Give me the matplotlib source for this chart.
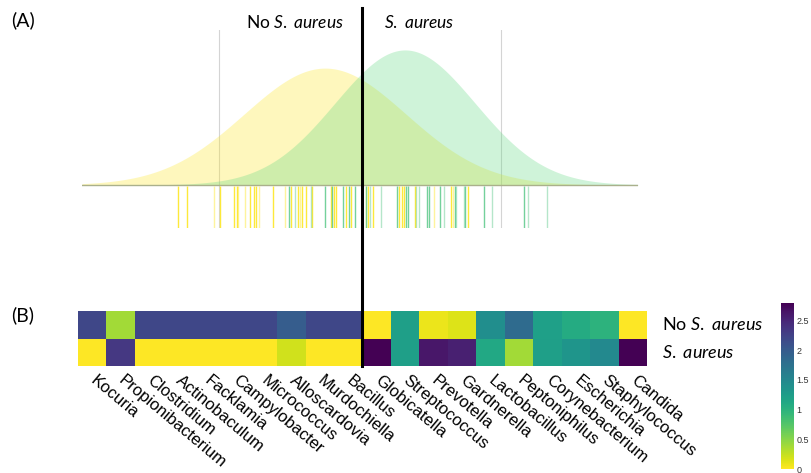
import numpy as np
import matplotlib.pyplot as plt
from matplotlib.lines import Line2D
import matplotlib.transforms as mtransforms

# Heatmap data (rows: No S. aureus / S. aureus)
genera = ['Kocuria', 'Propionibacterium', 'Clostridium', 'Actinobaculum', 'Facklamia',
          'Campylobacter', 'Micrococcus', 'Alloscardovia', 'Murdochiella', 'Bacillus',
          'Globicatella', 'Streptococcus', 'Prevotella', 'Gardnerella', 'Lactobacillus',
          'Peptoniphilus', 'Corynebacterium', 'Escherichia', 'Staphylococcus', 'Candida']
noAureusValues = [2.2, 0.39, 2.2, 2.2, 2.2, 2.2, 2.2, 1.98, 2.2, 2.2,
                  0.0, 1.23, 0.08, 0.15, 1.42, 1.83, 1.21, 1.08, 1.0, 0.0]
aureusValues = [0.0, 2.34, 0.0, 0.0, 0.0, 0.0, 0.0, 0.2, 0.0, 0.0,
                2.79, 1.23, 2.62, 2.55, 1.12, 0.39, 1.23, 1.34, 1.48, 2.79]
rowLabels = [r'No $\mathit{S.\ aureus}$', r'$\mathit{S.\ aureus}$']
colorbarTicks = [0, 0.5, 1, 1.5, 2, 2.5]
colorbarTickLabels = ['0', '0.5', '1', '1.5', '2', '2.5']

# Density parameters (mean, sd) for both groups
noAureusMean, noAureusSd = -0.247, 0.572
aureusMean, aureusSd = 0.318, 0.495

# Rug positions (strong / faint) for both groups
noAureusRugStrong = [-1.284, -1.220, -0.987, -0.894, -0.867, -0.775, -0.751, -0.733, -0.613,
                     -0.486, -0.440, -0.410, -0.380, -0.337, -0.207, -0.184, -0.170, -0.097,
                     -0.061, 0.059, 0.094, 0.278, 0.295, 0.309, 0.387, 0.643, 0.765]
noAureusRugFaint = [-1.034, -0.859, -0.811, -0.716, -0.532, -0.426, 0.040, 0.523, 0.655]
aureusRugStrong = [-0.500, -0.249, -0.196, -0.122, -0.080, -0.037, 0.042, 0.259, 0.325,
                   0.341, 0.471, 0.490, 0.567, 0.669, 0.744, 0.874, 1.157]
aureusRugFaint = [-0.461, -0.348, 0.073, 0.148, 0.398, 0.417, 0.592, 0.678, 0.733, 0.933,
                  1.187, 1.324]

yellow = '#FDE725'
green = '#62D982'

plt.rcParams['mathtext.fontset'] = 'custom'
plt.rcParams['mathtext.rm'] = 'Lato'
plt.rcParams['mathtext.it'] = 'Lato:italic'

fig = plt.figure(figsize=(8.12, 4.73), dpi=100)
W, H = 812, 473

# ---------------- Panel A: densities with rugs ----------------
axTop = fig.add_axes([82 / W, 1 - 228 / H, 556 / W, 198 / H])
xMin, xMax = -1.965, 1.965
yMin, yMax = -0.257, 0.925
xGrid = np.linspace(xMin, xMax, 600)

def normalPdf(x, mu, sd):
    return np.exp(-0.5 * ((x - mu) / sd) ** 2) / (sd * np.sqrt(2 * np.pi))

# Grid lines behind everything
for gx in [-1, 1]:
    axTop.axvline(gx, color='#d4d4d4', lw=0.8, zorder=0)

axTop.fill_between(xGrid, 0, normalPdf(xGrid, noAureusMean, noAureusSd), color=yellow, alpha=0.3, lw=0, zorder=1)
axTop.fill_between(xGrid, 0, normalPdf(xGrid, aureusMean, aureusSd), color=green, alpha=0.3, lw=0, zorder=2)
axTop.axhline(0, color='#aab08c', lw=1.0, zorder=3)

# Rug lines
axTop.vlines(noAureusRugStrong, yMin, -0.005, color=yellow, alpha=0.9, lw=1.0, zorder=3)
axTop.vlines(noAureusRugFaint, yMin, -0.005, color=yellow, alpha=0.45, lw=1.0, zorder=3)
axTop.vlines(aureusRugStrong, yMin, -0.005, color='#5CC98A', alpha=0.85, lw=1.0, zorder=3)
axTop.vlines(aureusRugFaint, yMin, -0.005, color='#5CC98A', alpha=0.45, lw=1.0, zorder=3)

axTop.set_xlim(xMin, xMax)
axTop.set_ylim(yMin, yMax)
axTop.axis('off')

# ---------------- Panel B: heatmap ----------------
axHeat = fig.add_axes([78 / W, 1 - 366 / H, 569 / W, 55 / H])
heatData = np.array([noAureusValues, aureusValues])
mesh = axHeat.pcolormesh(np.arange(len(genera) + 1), np.arange(3), heatData,
                         cmap='viridis_r', vmin=0, vmax=2.79)
axHeat.set_xlim(0, len(genera))
axHeat.set_ylim(2, 0)
axHeat.set_xticks([])
axHeat.set_yticks([])
for side in axHeat.spines.values():
    side.set_visible(False)

# Tilted genus labels under each column
labelShift = mtransforms.ScaledTranslation(5 / 100, -7 / 100, fig.dpi_scale_trans)
for i, name in enumerate(genera):
    axHeat.text(i + 0.5, 0, name, transform=axHeat.get_xaxis_transform() + labelShift,
                rotation=-40, ha='left', va='top', rotation_mode='anchor',
                fontsize=12, family='Liberation Sans')

# Row labels on the right
for i, label in enumerate(rowLabels):
    axHeat.text(1.026, 1 - (i + 0.5) / 2, label, transform=axHeat.transAxes,
                ha='left', va='center', fontsize=13, family='Lato')

# Colorbar
cax = fig.add_axes([781 / W, 1 - 469 / H, 13 / W, 166 / H])
cbar = fig.colorbar(mesh, cax=cax, ticks=colorbarTicks)
cbar.outline.set_visible(False)
cbar.ax.set_yticklabels(colorbarTickLabels, family='Liberation Sans')
cbar.ax.tick_params(length=0, labelsize=6.5, pad=2, labelcolor='#333333')

# ---------------- Annotations ----------------
fig.text(11 / W, 1 - 20 / H, '(A)', fontsize=14, family='Lato', va='center')
fig.text(11 / W, 1 - 315 / H, '(B)', fontsize=14, family='Lato', va='center')
fig.text(344 / W, 1 - 22 / H, r'No $\mathit{S.\ aureus}$', fontsize=12.5, family='Lato', ha='right', va='center')
fig.text(384 / W, 1 - 22 / H, r'$\mathit{S.\ aureus}$', fontsize=12.5, family='Lato', ha='left', va='center')

# Black separator line across both panels
fig.add_artist(Line2D([362 / W, 362 / W], [1 - 8 / H, 1 - 366 / H], color='black', lw=2.2,
                      transform=fig.transFigure))

fig.savefig('out.png', dpi=100)
